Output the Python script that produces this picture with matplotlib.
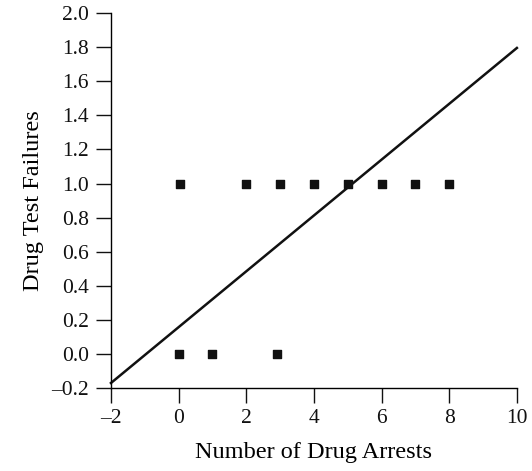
import numpy as np
import matplotlib
matplotlib.use("Agg")
import matplotlib.pyplot as plt

plt.rcParams['font.family'] = ['Liberation Serif', 'DejaVu Serif']

# data points
arrests = [0, 1, 2.9, 0.05, 2, 3, 4, 5, 6, 7, 8]
failures = [0, 0, 0, 1, 1, 1, 1, 1, 1, 1, 1]

# fitted line endpoints
line_x = [-2, 10]
line_y = [-0.17, 1.795]

x_ticks = [-2, 0, 2, 4, 6, 8, 10]
y_ticks = [-0.2, 0.0, 0.2, 0.4, 0.6, 0.8, 1.0, 1.2, 1.4, 1.6, 1.8, 2.0]

fig = plt.figure(figsize=(5.32, 4.71), dpi=100)
ax = fig.add_axes([0.2086, 0.176, 0.763, 0.7964])

ax.plot(line_x, line_y, color='#111111', lw=1.8, clip_on=False)
ax.scatter(arrests, failures, marker='s', s=40, color='#111111', zorder=3)

ax.set_xlim(-2, 10)
ax.set_ylim(-0.2, 2.0)
ax.set_xticks(x_ticks)
ax.set_xticklabels(['\u2013' + str(-t) if t < 0 else str(t) for t in x_ticks])
ax.set_yticks(y_ticks)
ax.set_yticklabels(['\u2013%.1f' % -t if t < 0 else '%.1f' % t for t in y_ticks])

for s in ['top', 'right']:
    ax.spines[s].set_visible(False)
for s in ['left', 'bottom']:
    ax.spines[s].set_linewidth(1.0)
ax.tick_params(direction='out', length=11, width=1.0, labelsize=15.5, colors='#111111')
ax.tick_params(axis='y', pad=5)
ax.tick_params(axis='x', pad=4)

ax.set_xlabel('Number of Drug Arrests', fontsize=17.5, labelpad=10)
ax.set_ylabel('Drug Test Failures', fontsize=17.5, labelpad=5)

fig.savefig('out.png', dpi=100)
